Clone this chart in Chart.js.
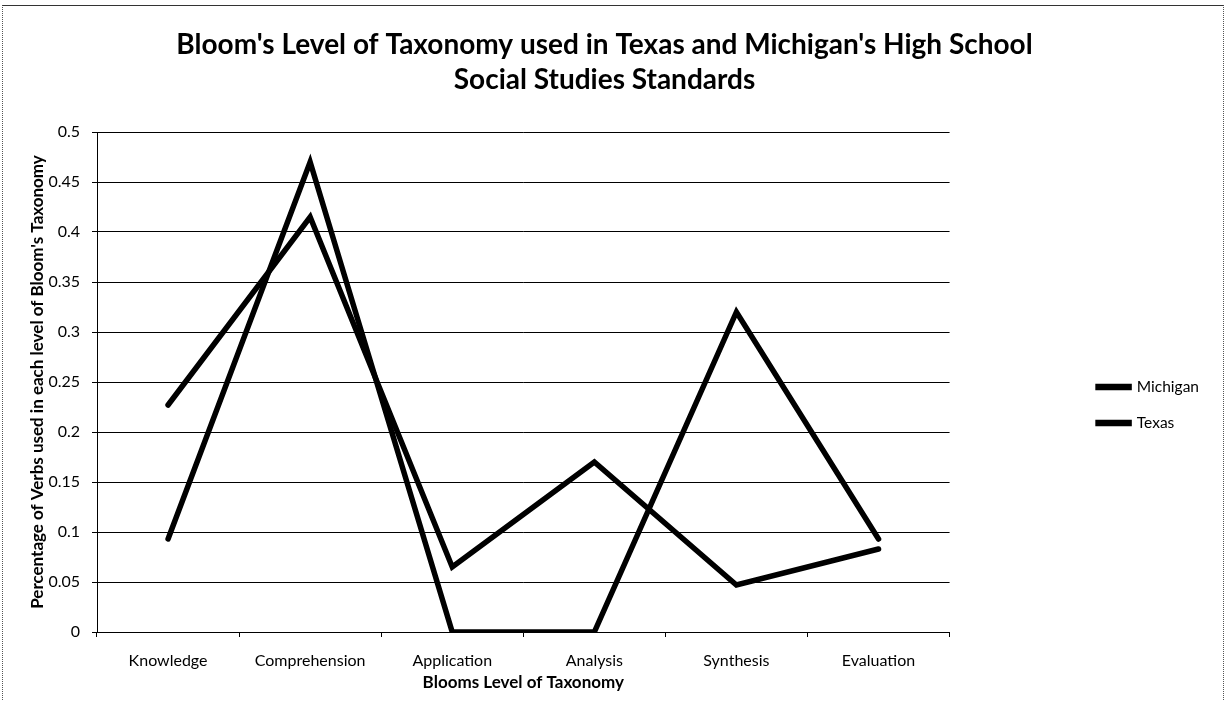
<!DOCTYPE html>
<html>
<head>
<meta charset="utf-8">
<script src="https://cdn.jsdelivr.net/npm/chart.js@4.4.0/dist/chart.umd.min.js"></script>
<style>
html,body{margin:0;padding:0;background:#fff;overflow:hidden}
#wrap{position:relative;width:1226px;height:701px}
canvas{display:block}
#frame{position:absolute;left:2px;top:5px;width:1220px;height:700px;border-left:1px dotted #555;border-right:1px dotted #555;border-top:1px solid #333;pointer-events:none}
</style>
</head>
<body>
<div id="wrap"><canvas id="c" width="1226" height="701"></canvas><div id="frame"></div></div>
<script>
const titleLines = ["Bloom's Level of Taxonomy used in Texas and Michigan's High School", "Social Studies Standards"];
const xTitle = "Blooms Level of Taxonomy";
const yTitle = "Percentage of Verbs used in each level of Bloom's Taxonomy";
const categories = ["Knowledge", "Comprehension", "Application", "Analysis", "Synthesis", "Evaluation"];
const seriesNames = ["Michigan", "Texas"];
const michigan = [0.227, 0.415, 0.065, 0.17, 0.047, 0.083];
const texas = [0.093, 0.47, 0, 0, 0.32, 0.093];
const yTickValues = [0, 0.05, 0.1, 0.15, 0.2, 0.25, 0.3, 0.35, 0.4, 0.45, 0.5];
const yTickLabels = ["0", "0.05", "0.1", "0.15", "0.2", "0.25", "0.3", "0.35", "0.4", "0.45", "0.5"];

const FONT = "Lato, 'Open Sans', sans-serif";
Chart.defaults.font.family = FONT;
Chart.defaults.color = '#000';

function lineDs(label, data) {
  return {
    label, data,
    borderColor: '#000', backgroundColor: '#000',
    borderWidth: 5.5, pointRadius: 0, pointHoverRadius: 0,
    tension: 0, borderJoinStyle: 'miter', borderCapStyle: 'round', fill: false
  };
}

new Chart(document.getElementById('c'), {
  type: 'line',
  data: {
    labels: categories,
    datasets: [lineDs(seriesNames[0], michigan), lineDs(seriesNames[1], texas)]
  },
  options: {
    responsive: false,
    animation: false,
    devicePixelRatio: 1,
    layout: { padding: { left: 0, right: 17, top: 0, bottom: 0 } },
    plugins: {
      tooltip: { enabled: false },
      title: {
        display: true, text: titleLines, color: '#000',
        font: { family: FONT, size: 28, weight: 'bold', lineHeight: 1.25 },
        padding: { top: 27, bottom: 35 }
      },
      legend: {
        display: true, position: 'right', align: 'center', fullSize: false,
        title: { display: true, text: ' ', font: { size: 10, lineHeight: 1.2 }, padding: { top: 34, bottom: 0 } },
        labels: {
          boxWidth: 31, boxHeight: 1, padding: 20.5, color: '#000',
          font: { family: FONT, size: 15.5 }
        }
      }
    },
    scales: {
      x: {
        type: 'category', offset: true,
        grid: { display: true, drawOnChartArea: false, drawTicks: true, tickLength: 5, color: '#000', offset: true, lineWidth: 1 },
        border: { display: true, color: '#000', width: 1 },
        ticks: { color: '#000', font: { family: FONT, size: 16 }, padding: 14, maxRotation: 0, autoSkip: false },
        title: { display: true, text: xTitle, color: '#000', font: { family: FONT, size: 17, weight: 'bold', lineHeight: 1.2 }, padding: { top: 4, bottom: 8 } },
        afterFit(s) { s.height = 69; }
      },
      y: {
        type: 'linear', position: 'left', min: 0, max: 0.5,
        afterBuildTicks(s) { s.ticks = yTickValues.map(v => ({ value: v })); },
        grid: { display: true, drawOnChartArea: true, drawTicks: true, tickLength: 5, color: '#000', lineWidth: 1 },
        border: { display: true, color: '#000', width: 1 },
        ticks: { color: '#000', font: { family: FONT, size: 16 }, padding: 12,
          callback: (v, i) => yTickLabels[i] },
        title: { display: true, text: yTitle, color: '#000', font: { family: FONT, size: 17, weight: 'bold', lineHeight: 1.2 }, padding: { top: 27, bottom: 4 } },
        afterFit(s) { s.width = 97; }
      },
      gap: {
        type: 'linear', position: 'right', display: true,
        grid: { display: false }, border: { display: false }, ticks: { display: false },
        afterFit(s) { s.width = 128; }
      }
    }
  }
});
</script>
</body>
</html>
